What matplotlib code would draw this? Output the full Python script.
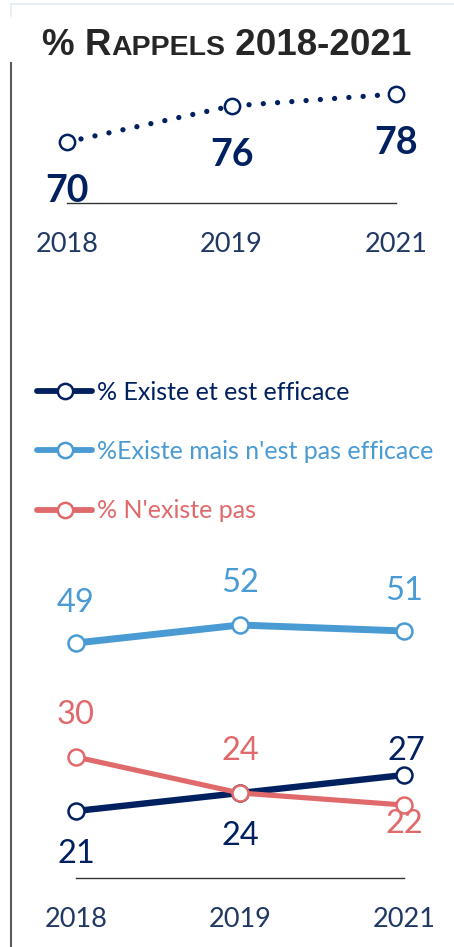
import matplotlib
matplotlib.use('Agg')
import matplotlib.pyplot as plt
from matplotlib.lines import Line2D

W, H = 454, 947
DPI = 100

years = ['2018', '2019', '2021']

# top chart: % rappels
rappels = [70, 76, 78]

# bottom chart
existe_efficace = [21, 24, 27]
existe_pas_efficace = [49, 52, 51]
existe_pas = [30, 24, 22]

labels = ['% Existe et est efficace',
          "%Existe mais n'est pas efficace",
          "% N'existe pas"]

NAVY = '#002060'
BLUE = '#4a9bd4'
RED = '#e06a6b'
YEAR_COL = '#1f3864'
NUM_FONT = 'Lato'

fig = plt.figure(figsize=(W / DPI, H / DPI), dpi=DPI)


def px_axes(left, right, top, bottom):
    # pixel box (top-left origin) -> figure fraction
    return fig.add_axes([left / W, 1 - bottom / H, (right - left) / W, (bottom - top) / H])


def style_axis(ax, base):
    for s in ['top', 'right', 'left']:
        ax.spines[s].set_visible(False)
    ax.spines['bottom'].set_position(('data', base))
    ax.spines['bottom'].set_bounds(0, 2)
    ax.spines['bottom'].set_color('#333333')
    ax.spines['bottom'].set_linewidth(1.0)
    ax.set_yticks([])
    ax.set_xticks(range(len(years)))
    ax.set_xticklabels(years, fontfamily=NUM_FONT, fontsize=19.5, color=YEAR_COL)
    ax.tick_params(axis='x', length=0, pad=21)
    ax.patch.set_alpha(0)


# ---- top chart ----
# x: 0 -> 67px, 2 -> 396px ; y: 6 px per unit, 70 -> 142px
ax1 = px_axes(67 - 0.25 * 164.5, 396 + 0.25 * 164.5, 142 - 6 * 16, 142 + 6 * 12)
ax1.set_xlim(-0.25, 2.25)
ax1.set_ylim(58, 86)
ax1.plot(range(3), rappels, color=NAVY, lw=3.8, ls=(0, (0.01, 2.7)),
         dash_capstyle='round', marker='o', ms=11, mfc='white', mec=NAVY, mew=1.8,
         clip_on=False, zorder=3)
for i, v in enumerate(rappels):
    ax1.annotate(str(v), (i, v), xytext=(0, -35), textcoords='offset points',
                 ha='center', va='center', fontfamily=NUM_FONT, fontweight='bold',
                 fontsize=27, color=NAVY)
style_axis(ax1, 59.8)

# ---- bottom chart ----
# x: 0 -> 76px, 2 -> 404px ; y: 6 px per unit, 49 -> 643px
ax2 = px_axes(76 - 0.25 * 164, 404 + 0.25 * 164, 643 - 6 * 12, 643 + 6 * 40)
ax2.set_xlim(-0.25, 2.25)
ax2.set_ylim(9, 61)

series = [
    (existe_efficace, NAVY, 4.6, [-31, -31, 17]),
    (existe_pas_efficace, BLUE, 5.0, [29, 30, 29]),
    (existe_pas, RED, 3.7, [30, 30, -14]),
]
handles = []
for vals, col, lw, offs in series:
    ax2.plot(range(3), vals, color=col, lw=lw, solid_capstyle='round',
             marker='o', ms=11.5, mfc='white', mec=col, mew=1.8, clip_on=False, zorder=3)
    for i, v in enumerate(vals):
        dx = 2 if (col == NAVY and i == 2) else 0
        ax2.annotate(str(v), (i, v), xytext=(dx, offs[i]), textcoords='offset points',
                     ha='center', va='center', fontfamily=NUM_FONT, fontsize=23.5, color=col)
    handles.append(Line2D([], [], color=col, lw=4.2, solid_capstyle='round', marker='o',
                          ms=11, mfc='white', mec=col, mew=1.8))
style_axis(ax2, 9.8)

leg = fig.legend(handles, labels, loc='upper left', bbox_to_anchor=(37 / W, 1 - 381 / H),
                 frameon=False, prop={'family': NUM_FONT, 'size': 18},
                 handlelength=2.2, handletextpad=0.2, labelspacing=1.45,
                 numpoints=1, labelcolor='linecolor', borderaxespad=0, borderpad=0)

# ---- title in small caps ----
renderer = fig.canvas.get_renderer()
title_parts = [('% R', 26.5), ('APPELS', 20.5), (' 2018-2021', 26.5)]
x = 42
base_y = 1 - 55 / H
for txt, sz in title_parts:
    t = fig.text(x / W, base_y, txt, fontfamily='Liberation Sans', fontweight='bold',
                 fontsize=sz, color='#262626', va='baseline', ha='left')
    x = t.get_window_extent(renderer).x1

# ---- frame lines ----
fig.add_artist(Line2D([11 / W, 11 / W], [1 - 63 / H, 0], color='#5a5a5a', lw=1.5))
fig.add_artist(Line2D([11 / W, 1], [1 - 4 / H, 1 - 4 / H], color='#e4ebf4', lw=1.2))
fig.add_artist(Line2D([11 / W, 11 / W], [1 - 4 / H, 1 - 16 / H], color='#e4ebf4', lw=1.2))

fig.savefig('out.png', dpi=DPI)
